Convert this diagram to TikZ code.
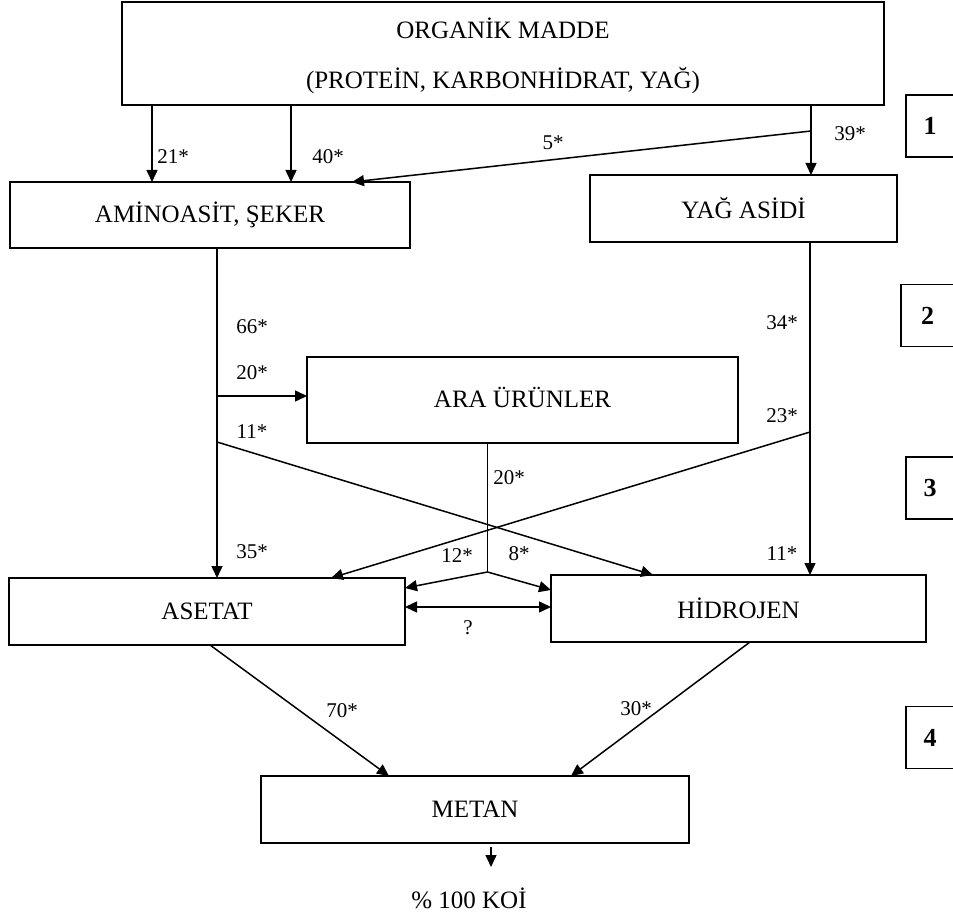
\documentclass[tikz,border=0pt]{standalone}
\usepackage{fontspec}
\setmainfont{Liberation Serif}
\usetikzlibrary{arrows.meta}

\begin{document}
\begin{tikzpicture}[x=0.5pt, y=-0.5pt,
    box/.style={draw, line width=0.75pt, inner sep=0pt, outer sep=0pt, align=center,
                font=\fontsize{12.5}{25}\selectfont},
    numbox/.style={draw, line width=0.75pt, inner sep=0pt, outer sep=0pt,
                   minimum width=24pt, minimum height=31pt,
                   font=\fontsize{13}{15}\selectfont\bfseries},
    arrow/.style={-{Triangle[length=6pt, width=5.5pt]}, line width=0.75pt},
    pct/.style={font=\fontsize{10.5}{12}\selectfont, inner sep=0pt}
  ]
    \useasboundingbox (0,0) rectangle (953,914);
    \clip (0,0) rectangle (953,914);

    % boxes
    \node[box, minimum width=381pt, minimum height=51.5pt] (organik) at (503,53.5)
      {\raisebox{-3pt}{\begin{tabular}{@{}c@{}}ORGANİK MADDE\\(PROTEİN, KARBONHİDRAT, YAĞ)\end{tabular}}};
    \node[box, minimum width=200pt, minimum height=33pt] (amino) at (210,215) {AMİNOASİT, ŞEKER};
    \node[box, minimum width=153.5pt, minimum height=33.5pt] (yag) at (743.5,208.5) {YAĞ ASİDİ};
    \node[box, minimum width=215.5pt, minimum height=43pt] (ara) at (522.5,400) {\raisebox{3pt}{ARA ÜRÜNLER}};
    \node[box, minimum width=198pt, minimum height=33.5pt] (asetat) at (207,611.5) {ASETAT};
    \node[box, minimum width=187.5pt, minimum height=33.5pt] (hidro) at (738.5,608.5) {HİDROJEN};
    \node[box, minimum width=214pt, minimum height=33.5pt] (metan) at (475,809.5) {METAN};
    \node[pct, font=\fontsize{12.5}{15}\selectfont] (koi) at (469,898) {\% 100 KOİ};

    % stage numbers
    \node[numbox] (st1) at (930,126) {1};
    \node[numbox, minimum width=26.5pt] (st2) at (927.5,315.5) {2};
    \node[numbox] (st3) at (930,488) {3};
    \node[numbox] (st4) at (930,737.5) {4};

    % hydrolysis
    \draw[arrow] (organik.south -| 152,0) -- (amino.north -| 152,0);
    \draw[arrow] (organik.south -| 291,0) -- (amino.north -| 291,0);
    \draw[arrow] (organik.south -| 811,0) -- (yag.north -| 811,0);
    \coordinate (fatfork) at (811,131);
    \draw[arrow] (fatfork) -- (amino.north -| 352,0);
    \node[pct] (p21) at (173,157) {21*};
    \node[pct] (p40) at (328,157) {40*};
    \node[pct] (p5) at (553,143) {5*};
    \node[pct] (p39) at (850,134) {39*};

    % acidogenesis
    \draw[arrow] (amino.south -| 217,0) -- (asetat.north -| 217,0);
    \coordinate (araturn) at (217,396);
    \draw[arrow] (araturn) -- (ara.west |- araturn);
    \coordinate (amcross) at (217,442);
    \draw[arrow] (amcross) -- (hidro.north -| 653,0);
    \draw[arrow] (yag.south -| 810,0) -- (hidro.north -| 810,0);
    \coordinate (yacross) at (810,432);
    \draw[arrow] (yacross) -- (asetat.north -| 331,0);
    \node[pct] (p66) at (252,327) {66*};
    \node[pct] (p20a) at (252,373) {20*};
    \node[pct] (p11a) at (252,432) {11*};
    \node[pct] (p35) at (252,552) {35*};
    \node[pct] (p34) at (782,323) {34*};
    \node[pct] (p23) at (782,416) {23*};
    \node[pct] (p11b) at (782,554) {11*};

    % intermediates
    \coordinate (arafork) at (487.5,572);
    \draw[line width=0.75pt] (ara.south -| arafork) -- (arafork);
    \draw[arrow] (arafork) -- (asetat.east |- 0,588);
    \draw[arrow] (arafork) -- (hidro.west |- 0,590);
    \draw[arrow, {Triangle[length=6pt, width=5.5pt]}-{Triangle[length=6pt, width=5.5pt]}]
      (asetat.east |- 0,607) -- (hidro.west |- 0,607);
    \node[pct] (p20b) at (509,478) {20*};
    \node[pct] (p12) at (457,556) {12*};
    \node[pct] (p8) at (519,554) {8*};
    \node[pct] (pq) at (468,628) {?};

    % methanogenesis
    \draw[arrow] (asetat.south -| 210,0) -- (metan.north -| 389,0);
    \draw[arrow] (hidro.south -| 750,0) -- (metan.north -| 571,0);
    \node[pct] (p70) at (342,711) {70*};
    \node[pct] (p30) at (636,709) {30*};
    \coordinate (koiarrow) at (491,867);
    \draw[arrow] ([yshift=-2pt]metan.south -| koiarrow) -- (koiarrow);
  \end{tikzpicture}
\end{document}
